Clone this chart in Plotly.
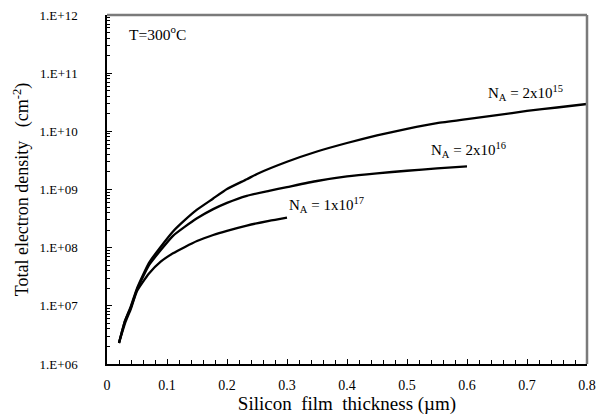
import plotly.graph_objects as go

# Data
x_2e15 = [0.02, 0.03, 0.04, 0.05, 0.07, 0.09, 0.11, 0.13, 0.15, 0.177, 0.2, 0.233, 0.25, 0.3, 0.35, 0.4, 0.45, 0.5, 0.55, 0.6, 0.65, 0.7, 0.75, 0.8]
y_2e15 = [2.3e6, 5.5e6, 1.0e7, 2.0e7, 5.5e7, 1.05e8, 1.9e8, 3.0e8, 4.5e8, 7.0e8, 1.02e9, 1.5e9, 1.85e9, 3.0e9, 4.5e9, 6.3e9, 8.5e9, 1.1e10, 1.38e10, 1.62e10, 1.9e10, 2.24e10, 2.57e10, 2.95e10]

x_2e16 = [0.02, 0.03, 0.04, 0.05, 0.07, 0.09, 0.11, 0.13, 0.15, 0.177, 0.2, 0.233, 0.27, 0.3, 0.35, 0.4, 0.45, 0.5, 0.55, 0.6]
y_2e16 = [2.3e6, 5.5e6, 9.5e6, 1.9e7, 5.0e7, 9.2e7, 1.6e8, 2.3e8, 3.2e8, 4.6e8, 5.9e8, 7.8e8, 9.5e8, 1.1e9, 1.4e9, 1.68e9, 1.9e9, 2.1e9, 2.3e9, 2.5e9]

x_1e17 = [0.02, 0.03, 0.04, 0.05, 0.07, 0.09, 0.11, 0.13, 0.15, 0.177, 0.2, 0.233, 0.27, 0.3]
y_1e17 = [2.3e6, 5.0e6, 9.0e6, 1.8e7, 3.6e7, 5.8e7, 8.0e7, 1.03e8, 1.3e8, 1.65e8, 1.95e8, 2.4e8, 2.9e8, 3.3e8]

y_tickvals = [1e6, 1e7, 1e8, 1e9, 1e10, 1e11, 1e12]
y_ticktext = ["1.E+06", "1.E+07", "1.E+08", "1.E+09", "1.E+10", "1.E+11", "1.E+12"]
x_tickvals = [0, 0.1, 0.2, 0.3, 0.4, 0.5, 0.6, 0.7, 0.8]
x_ticktext = ["0", "0.1", "0.2", "0.3", "0.4", "0.5", "0.6", "0.7", "0.8"]

FONT = "Liberation Serif, Times New Roman, serif"
FRAME = "#7a7a7a"

fig = go.Figure()
for xs, ys in [(x_2e15, y_2e15), (x_2e16, y_2e16), (x_1e17, y_1e17)]:
    fig.add_trace(go.Scatter(x=xs, y=ys, mode="lines",
                             line=dict(color="black", width=2.3, shape="spline", smoothing=0.5),
                             showlegend=False, hoverinfo="skip"))

fig.update_layout(
    width=589, height=409,
    margin=dict(l=99, r=10, t=7, b=53, autoexpand=False),
    paper_bgcolor="white", plot_bgcolor="white",
    font=dict(family=FONT, color="black", size=12),
    xaxis=dict(range=[0, 0.8], tickvals=x_tickvals, ticktext=x_ticktext,
               showline=True, linecolor="black", linewidth=1.5, automargin=False,
               ticks="inside", ticklen=5, tickcolor="black", tickwidth=1,
               minor=dict(dtick=0.02, ticks="inside", ticklen=4, tickcolor="black", tickwidth=1),
               showgrid=False, zeroline=False, ticklabeloverflow="allow",
               tickfont=dict(family=FONT, size=14), ticklabelstandoff=7,
               title=dict(text="Silicon\u00a0 film\u00a0 thickness (\u00b5m)",
                          font=dict(family=FONT, size=19), standoff=4)),
    yaxis=dict(type="log", range=[6, 12], tickvals=y_tickvals, ticktext=y_ticktext,
               showline=True, linecolor="black", linewidth=1.5, automargin=False,
               ticks="inside", ticklen=5, tickcolor="black", tickwidth=1,
               minor=dict(dtick="D1", ticks="inside", ticklen=3, tickcolor="black", tickwidth=1),
               showgrid=False, zeroline=False, ticklabeloverflow="allow",
               tickfont=dict(family=FONT, size=13), ticklabelstandoff=25,
               title=dict(text="Total electron density\u00a0\u00a0 (cm<sup>-2</sup>)",
                          font=dict(family=FONT, size=18), standoff=6)),
    shapes=[
        dict(type="line", xref="x domain", yref="y domain", x0=0, x1=1, y0=1, y1=1,
             layer="above", line=dict(color=FRAME, width=2.5)),
        dict(type="line", xref="x domain", yref="y domain", x0=1, x1=1, y0=0, y1=1,
             layer="above", line=dict(color=FRAME, width=2.5)),
    ],
    annotations=[
        dict(text="T=300<sup>o</sup>C", xref="x", yref="paper", x=0.033, y=0.948,
             xanchor="left", yanchor="middle", showarrow=False, font=dict(family=FONT, size=15.5)),
        dict(text="N<sub>A</sub> = 2x10<sup>15</sup>", xref="x", yref="paper", x=0.698, y=0.776,
             xanchor="center", yanchor="middle", showarrow=False, font=dict(family=FONT, size=15)),
        dict(text="N<sub>A</sub> = 2x10<sup>16</sup>", xref="x", yref="paper", x=0.602, y=0.613,
             xanchor="center", yanchor="middle", showarrow=False, font=dict(family=FONT, size=15)),
        dict(text="N<sub>A</sub> = 1x10<sup>17</sup>", xref="x", yref="paper", x=0.365, y=0.456,
             xanchor="center", yanchor="middle", showarrow=False, font=dict(family=FONT, size=15)),
    ],
)

fig.write_html("out.html")
